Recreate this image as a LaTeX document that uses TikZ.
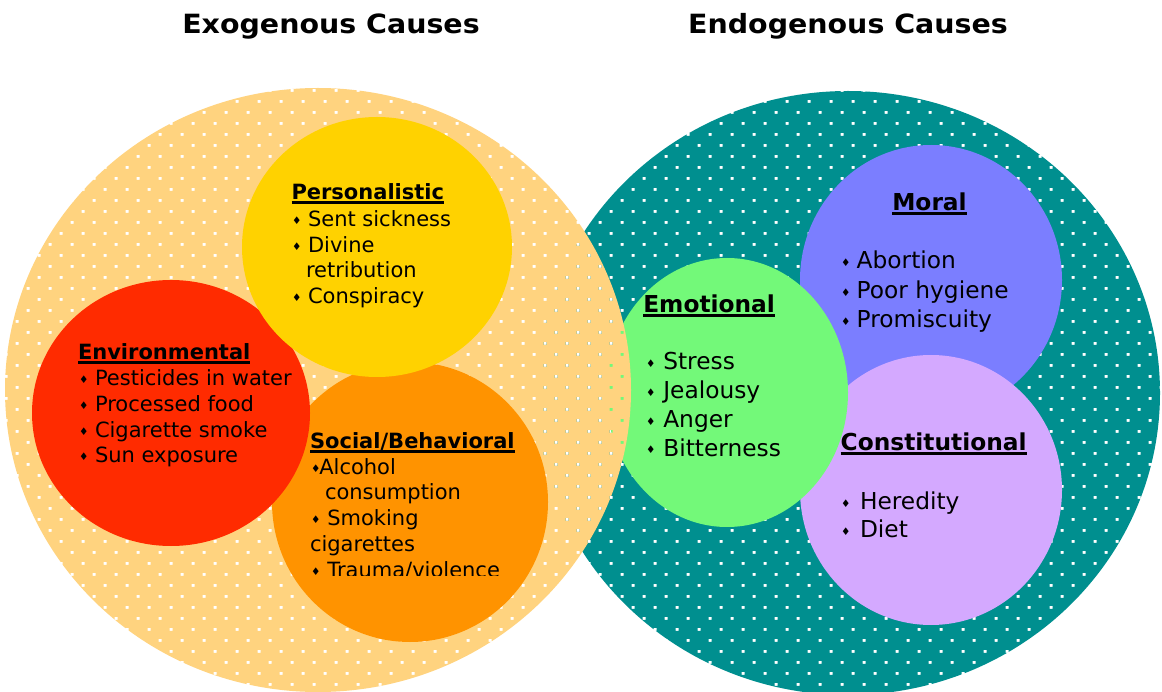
\documentclass[tikz,border=0pt]{standalone}
\usepackage{fontspec}
\setmainfont{DejaVu Sans}
\definecolor{exobg}{HTML}{FFD37F}
\definecolor{endobg}{HTML}{008F8F}
\definecolor{persc}{HTML}{FFD200}
\definecolor{envc}{HTML}{FF2B00}
\definecolor{socc}{HTML}{FF9300}
\definecolor{emoc}{HTML}{73F979}
\definecolor{morc}{HTML}{7B7EFF}
\definecolor{conc}{HTML}{D4A9FF}
\tikzset{
  ln/.style={anchor=base west, inner sep=0pt, outer sep=0pt, font=\fontsize{21}{21}\selectfont},
  lnb/.style={anchor=base west, inner sep=0pt, outer sep=0pt, font=\fontsize{23.3}{23.3}\selectfont},
  ttl/.style={anchor=base, inner sep=0pt, outer sep=0pt, font=\fontsize{26.5}{26.5}\selectfont\bfseries},
}
% underlined bold heading
\newcommand\hd[1]{\setbox0\hbox{\bfseries #1}\rlap{\rule[-4.3pt]{\wd0}{2.8pt}}\box0}
% diamond bullet in a box of given width
\newcommand\bl[1]{\makebox[#1][l]{\raisebox{2pt}{\fontsize{10.5}{10.5}\selectfont ♦}}}
% wide title lettering
\newcommand\wide[1]{\scalebox{1.074}[1]{#1}}
\begin{document}
\begin{tikzpicture}[x=1pt,y=-1pt]
\useasboundingbox (0,0) rectangle (1162,692);

% endogenous field: teal with a grid of small holes
\begin{scope}
  \clip (848,393) ellipse [x radius=312pt, y radius=302pt];
  \fill[endobg, even odd rule] (525,80) rectangle (1175,705)
    foreach \j [evaluate=\j as \yy using {167.3+11*\j-1.5},
                evaluate=\j as \xo using {655+11*mod(\j+100,2)-1.5}] in {-8,...,48}
      { foreach \k in {-6,...,23} { ({\xo+22*\k},\yy) rectangle ++(3.1,3.1) } };
\end{scope}

% endogenous categories
\fill[morc] (931,280) ellipse [x radius=131pt, y radius=135pt];
\fill[conc] (931,490) ellipse [x radius=131pt, y radius=135pt];
\fill[emoc] (727,392.5) ellipse [x radius=121pt, y radius=134.5pt];

% exogenous field: light orange with the same hole grid
\begin{scope}
  \clip (318,390) ellipse [x radius=313pt, y radius=302pt];
  \fill[exobg, even odd rule] (0,80) rectangle (645,705)
    foreach \j [evaluate=\j as \yy using {167.3+11*\j-1.5},
                evaluate=\j as \xo using {655+11*mod(\j+100,2)-1.5}] in {-8,...,48}
      { foreach \k in {-31,...,0} { ({\xo+22*\k},\yy) rectangle ++(3.1,3.1) } };
\end{scope}

% exogenous categories
\fill[socc] (410,502) ellipse [x radius=138pt, y radius=140pt];
\fill[envc] (171,413) ellipse [x radius=139pt, y radius=133pt];
\fill[persc] (377,247) ellipse [x radius=135pt, y radius=130pt];

% titles
\node[ttl] (exoT) at (331,33.3) {\wide{Exogenous Causes}};
\node[ttl] (endoT) at (848,33.3) {\wide{Endogenous Causes}};

% Personalistic
\node[ln] (perH) at (291.5,199.3) {\hd{Personalistic}};
\node[ln] (per1) at (292,226.7) {\bl{16pt}Sent sickness};
\node[ln] (per2) at (292,252.3) {\bl{16pt}Divine};
\node[ln] (per3) at (306,277.8) {retribution};
\node[ln] (per4) at (292,303.3) {\bl{16pt}Conspiracy};

% Environmental
\node[ln] (envH) at (78,359.3) {\hd{Environmental}};
\node[ln] (env1) at (79,386) {\bl{16pt}Pesticides in water};
\node[ln] (env2) at (79,411.5) {\bl{16pt}Processed food};
\node[ln] (env3) at (79,437.2) {\bl{16pt}Cigarette smoke};
\node[ln] (env4) at (79,462.7) {\bl{16pt}Sun exposure};

% Social/Behavioral, last line cut off by the text frame
\begin{scope}
  \clip (300,425) rectangle (560,575.5);
  \node[ln] (socH) at (310,448.5) {\hd{Social/Behavioral}};
  \node[ln] (soc1) at (311,474.2) {\bl{8.3pt}Alcohol};
  \node[ln] (soc2) at (325,499.9) {consumption};
  \node[ln] (soc3) at (311,525.6) {\bl{16.3pt}Smoking};
  \node[ln] (soc4) at (310,551.3) {cigarettes};
  \node[ln] (soc5) at (311,577) {\bl{16.3pt}Trauma/violence};
\end{scope}

% Emotional
\node[lnb] (emoH) at (643.3,312.7) {\hd{Emotional}};
\node[lnb] (emo1) at (646,369.3) {\bl{17.3pt}Stress};
\node[lnb] (emo2) at (646,398.3) {\bl{17.3pt}Jealousy};
\node[lnb] (emo3) at (646,427.3) {\bl{17.3pt}Anger};
\node[lnb] (emo4) at (646,456) {\bl{17.3pt}Bitterness};

% Moral
\node[lnb, anchor=base] (morH) at (929.5,210.7) {\hd{Moral}};
\node[lnb] (mor1) at (841,269) {\bl{15.7pt}Abortion};
\node[lnb] (mor2) at (841,299) {\bl{15.7pt}Poor hygiene};
\node[lnb] (mor3) at (841,327.7) {\bl{15.7pt}Promiscuity};

% Constitutional
\node[lnb] (conH) at (840.7,450.7) {\hd{Constitutional}};
\node[lnb] (con1) at (841,509.3) {\bl{19pt}Heredity};
\node[lnb] (con2) at (841,537.7) {\bl{19pt}Diet};
\end{tikzpicture}
\end{document}
